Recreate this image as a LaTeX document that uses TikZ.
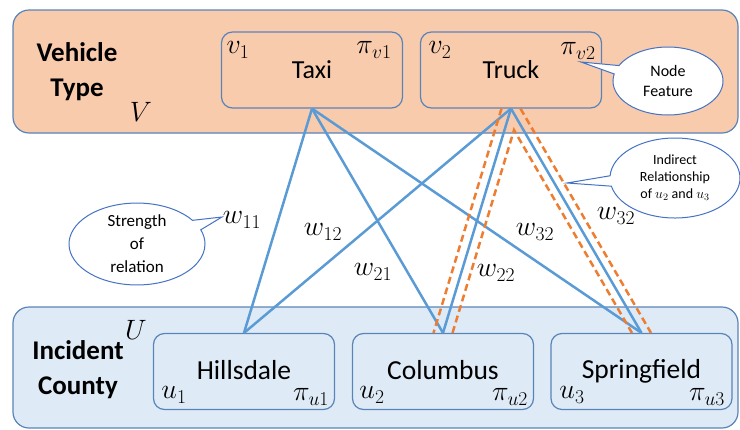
\RequirePackage{fix-cm}
\documentclass[tikz,border=0pt]{standalone}
\usepackage{fontspec}
\setmainfont{Carlito}
\usetikzlibrary{shapes.callouts,calc}
\definecolor{bandor}{HTML}{F8CBAD}
\definecolor{bandbl}{HTML}{DEEBF7}
\definecolor{frame}{HTML}{5A84B8}
\definecolor{edgeb}{HTML}{5B9BD5}
\definecolor{edgeo}{HTML}{ED7D31}
\definecolor{callb}{HTML}{4472C4}
\begin{document}
\begin{tikzpicture}[x=1pt,y=-1pt,
  band/.style={draw=frame, line width=1.2pt, rounded corners=16pt, inner sep=0pt},
  ent/.style={draw=frame, line width=1.2pt, rounded corners=11pt, minimum width=181pt, minimum height=76pt, inner sep=0pt},
  topent/.style={ent, fill=bandor, font=\fontsize{26}{30}\selectfont},
  botent/.style={ent, fill=bandbl, font=\fontsize{27.5}{30}\selectfont},
  grp/.style={align=center, font=\bfseries\fontsize{27}{35}\selectfont},
  mlab/.style={inner sep=0pt, font=\fontsize{28}{32}\selectfont},
  wlab/.style={inner sep=0pt, font=\fontsize{28}{32}\selectfont},
  edge/.style={draw=edgeb, line width=2.5pt},
  hilite/.style={draw=edgeo, line width=2.5pt, dash pattern=on 7pt off 4pt},
  call/.style={ellipse callout, draw=callb, fill=white, line width=1pt, inner sep=0pt, align=center}
]
\useasboundingbox (0,0) rectangle (740,429);
% bands
\node[band, fill=bandor, minimum width=725pt, minimum height=123pt] (Vband) at (375.5,71.5) {};
\node[band, fill=bandbl, minimum width=725pt, minimum height=121pt] (Uband) at (375.5,367.5) {};
\node[grp] (vtype) at (77,72) {Vehicle\\Type};
\node[grp] (icounty) at (78,370) {Incident\\County};
\node[mlab] (Vset) at (141,112) {$V$};
\node[mlab] (Uset) at (136,330) {$U$};
% entity boxes
\node[topent] (taxi) at (312,70) {Taxi};
\node[topent] (truck) at (511,70) {Truck};
\node[botent] (hil) at (244,371.5) {\raisebox{3.5pt}{Hillsdale}};
\node[botent] (col) at (443,371.5) {\raisebox{3.5pt}{Columbus}};
\node[botent] (spr) at (641.5,371.5) {\raisebox{3.5pt}{Springfield}};
% labels in boxes
\node[mlab] (v1) at (238,50) {$v_1$};
\node[mlab] (pv1) at (374,50) {$\pi_{v1}$};
\node[mlab] (v2) at (440,50) {$v_2$};
\node[mlab] (pv2) at (578,51) {$\pi_{v2}$};
\node[mlab] (u1) at (174,395) {$u_1$};
\node[mlab] (pu1) at (311,397) {$\pi_{u1}$};
\node[mlab] (u2) at (372,395) {$u_2$};
\node[mlab] (pu2) at (510,397) {$\pi_{u2}$};
\node[mlab] (u3) at (572,395) {$u_3$};
\node[mlab] (pu3) at (707,397) {$\pi_{u3}$};
% edges
\draw[edge] (taxi.south) -- (hil.north);
\draw[edge] (taxi.south) -- (col.north);
\draw[edge] (taxi.south) -- (spr.north);
\draw[edge] (truck.south) -- (hil.north);
\draw[edge] (truck.south) -- (col.north);
\draw[edge] (truck.south) -- (spr.north);
% highlighted indirect relationship
\coordinate (tL) at ($(truck.south)+(-9.5,0)$);
\coordinate (tR) at ($(truck.south)+(9.5,0)$);
\coordinate (cL) at ($(col.north)+(-9.5,0)$);
\coordinate (cR) at ($(col.north)+(9.5,0)$);
\coordinate (sL) at ($(spr.north)+(-9.5,0)$);
\coordinate (sR) at ($(spr.north)+(9.5,0)$);
\coordinate (apex) at (intersection of tR--cR and tL--sL);
\draw[hilite] (tL) -- (cL);
\draw[hilite] (tR) -- (sR);
\draw[hilite] (cR) -- (apex) -- (sL);
% weights
\node[wlab] (w11) at (242,220) {$w_{11}$};
\node[wlab] (w12) at (323,232) {$w_{12}$};
\node[wlab] (w21) at (373,272) {$w_{21}$};
\node[wlab] (w22) at (496,273) {$w_{22}$};
\node[wlab] (w32a) at (535,232) {$w_{32}$};
\node[wlab] (w32b) at (616,216) {$w_{32}$};
% callouts
\node[call, minimum width=110pt, minimum height=68pt, callout absolute pointer={(581,62)}, font=\fontsize{16}{20}\selectfont] (nf) at (668,81) {Node\\Feature};
\node[call, minimum width=136pt, minimum height=78pt, callout absolute pointer={(222,217)}, font=\fontsize{17}{23}\selectfont] (sr) at (137,244) {Strength\\of\\relation};
\node[call, minimum width=130pt, minimum height=80pt, callout absolute pointer={(567,183)}, font=\fontsize{14}{17}\selectfont] (ir) at (675,178) {Indirect\\Relationship\\of $u_2$ and $u_3$};
\end{tikzpicture}
\end{document}
